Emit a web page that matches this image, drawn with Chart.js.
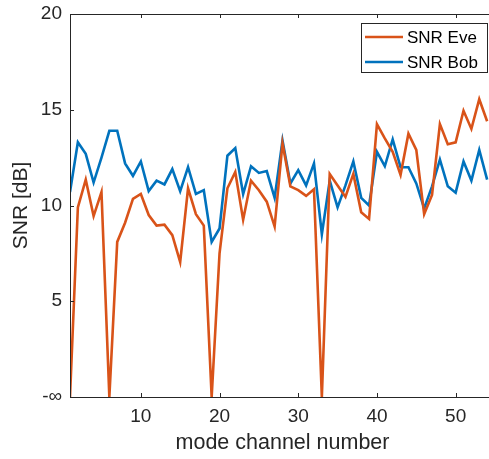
<!DOCTYPE html>
<html>
<head>
<meta charset="utf-8">
<script src="https://cdn.jsdelivr.net/npm/chart.js@4"></script>
<style>
html,body{margin:0;padding:0;overflow:hidden;background:#fff;width:489px;height:459px;}
canvas{display:block;}
</style>
</head>
<body>
<canvas id="c" width="505" height="459"></canvas>
<script>
const channels = [];
for (let i = 1; i <= 54; i++) channels.push(i);

// SNR values in dB; 0 is shown as -∞
const snrEve = [0, 9.9, 11.35, 9.45, 10.7, 0, 8.1, 9.1, 10.35, 10.6,
  9.5, 8.95, 9.0, 8.45, 7.05, 10.9, 9.55, 8.95, 0, 7.5,
  10.9, 11.75, 9.25, 11.3, 10.8, 10.2, 8.9, 13.25, 11.0, 10.8,
  10.5, 10.85, 0, 11.65, 11.05, 10.45, 11.65, 9.65, 9.3, 14.25,
  13.5, 12.8, 11.6, 13.75, 12.9, 9.55, 10.55, 14.25, 13.2, 13.3,
  14.95, 14.0, 15.55, 14.4];
const snrBob = [10.7, 13.3, 12.7, 11.2, 12.5, 13.9, 13.9, 12.2, 11.55, 12.3,
  10.75, 11.3, 11.1, 11.9, 10.75, 12.0, 10.6, 10.8, 8.1, 8.8,
  12.6, 13.0, 10.6, 12.05, 11.7, 11.8, 10.4, 13.4, 11.15, 11.85,
  11.05, 12.2, 8.5, 11.3, 9.9, 11.05, 12.3, 10.4, 10.0, 12.8,
  12.05, 13.45, 12.0, 12.0, 11.15, 9.85, 11.0, 12.4, 11.0, 10.67,
  12.3, 11.3, 12.9, 11.35];
const seriesNames = ['SNR Eve', 'SNR Bob'];
const xTickValues = [10, 20, 30, 40, 50];
const yTickValues = [0, 5, 10, 15, 20];
const yTickLabels = ['-\u221E', '5', '10', '15', '20'];

const AX = '#262626';
const FONT = 'Liberation Sans, Arial, Helvetica, sans-serif';

const inwardTicks = {
  id: 'inwardTicks',
  afterDraw(chart) {
    const {ctx, chartArea: a, scales} = chart;
    ctx.save();
    ctx.strokeStyle = AX;
    ctx.lineWidth = 1;
    ctx.beginPath();
    ctx.moveTo(a.left + 0.5, a.top + 0.5);
    ctx.lineTo(a.left + 0.5, a.bottom + 0.5);
    ctx.lineTo(a.right, a.bottom + 0.5);
    ctx.moveTo(a.left, a.top + 0.5);
    ctx.lineTo(a.right, a.top + 0.5);
    scales.x.ticks.forEach(t => {
      const px = Math.round(scales.x.getPixelForValue(t.value)) + 0.5;
      ctx.moveTo(px, a.bottom); ctx.lineTo(px, a.bottom - 4);
      ctx.moveTo(px, a.top); ctx.lineTo(px, a.top + 4);
    });
    scales.y.ticks.forEach(t => {
      const py = Math.round(scales.y.getPixelForValue(t.value)) + 0.5;
      ctx.moveTo(a.left, py); ctx.lineTo(a.left + 4, py);
    });
    ctx.stroke();
    ctx.restore();
  }
};

const boxLegend = {
  id: 'boxLegend',
  afterDraw(chart, args, opts) {
    const ctx = chart.ctx;
    const x = opts.x, y = opts.y, w = opts.w, h = opts.h;
    ctx.save();
    ctx.fillStyle = '#fff';
    ctx.fillRect(x, y, w, h);
    ctx.strokeStyle = AX;
    ctx.lineWidth = 1;
    ctx.strokeRect(x + 0.5, y + 0.5, w, h);
    ctx.font = '17px ' + FONT;
    ctx.textBaseline = 'middle';
    chart.data.datasets.forEach((ds, i) => {
      const ly = y + opts.row0 + i * opts.rowGap;
      ctx.strokeStyle = ds.borderColor;
      ctx.lineWidth = 2.5;
      ctx.beginPath();
      ctx.moveTo(x + 4, ly);
      ctx.lineTo(x + 42, ly);
      ctx.stroke();
      ctx.fillStyle = '#000';
      ctx.fillText(ds.label, x + 46, ly + 1);
    });
    ctx.restore();
  }
};

new Chart(document.getElementById('c'), {
  type: 'line',
  data: {
    labels: channels,
    datasets: [
      {label: seriesNames[0], data: channels.map((c, i) => ({x: c, y: snrEve[i]})),
       borderColor: '#D95319', borderWidth: 2.6, pointRadius: 0, tension: 0, fill: false},
      {label: seriesNames[1], data: channels.map((c, i) => ({x: c, y: snrBob[i]})),
       borderColor: '#0072BD', borderWidth: 2.6, pointRadius: 0, tension: 0, fill: false}
    ]
  },
  options: {
    responsive: false,
    animation: false,
    layout: {padding: {left: 0, right: 10, top: 14, bottom: 0}},
    plugins: {
      legend: {display: false},
      tooltip: {enabled: false},
      boxLegend: {x: 361, y: 23, w: 126, h: 49, row0: 14, rowGap: 25}
    },
    scales: {
      x: {
        type: 'linear', min: 1, max: 55,
        afterBuildTicks: s => { s.ticks = xTickValues.map(v => ({value: v})); },
        afterFit: s => { s.height = 62; },
        grid: {display: false},
        border: {display: false},
        ticks: {color: AX, font: {family: FONT, size: 19}, padding: 0, maxRotation: 0},
        title: {display: true, text: 'mode channel number', color: AX,
                font: {family: FONT, size: 21.5}, padding: {top: 0, bottom: 3}}
      },
      y: {
        min: 0, max: 20,
        afterBuildTicks: s => { s.ticks = yTickValues.map(v => ({value: v})); },
        afterFit: s => { s.width = 70; },
        grid: {display: false},
        border: {display: false},
        ticks: {color: AX, font: {family: FONT, size: 19}, padding: 0,
                callback: v => yTickLabels[yTickValues.indexOf(v)]},
        title: {display: true, text: 'SNR [dB]', color: AX,
                font: {family: FONT, size: 21}, padding: {top: 9, bottom: 0}}
      }
    }
  },
  plugins: [inwardTicks, boxLegend]
});
</script>
</body>
</html>
